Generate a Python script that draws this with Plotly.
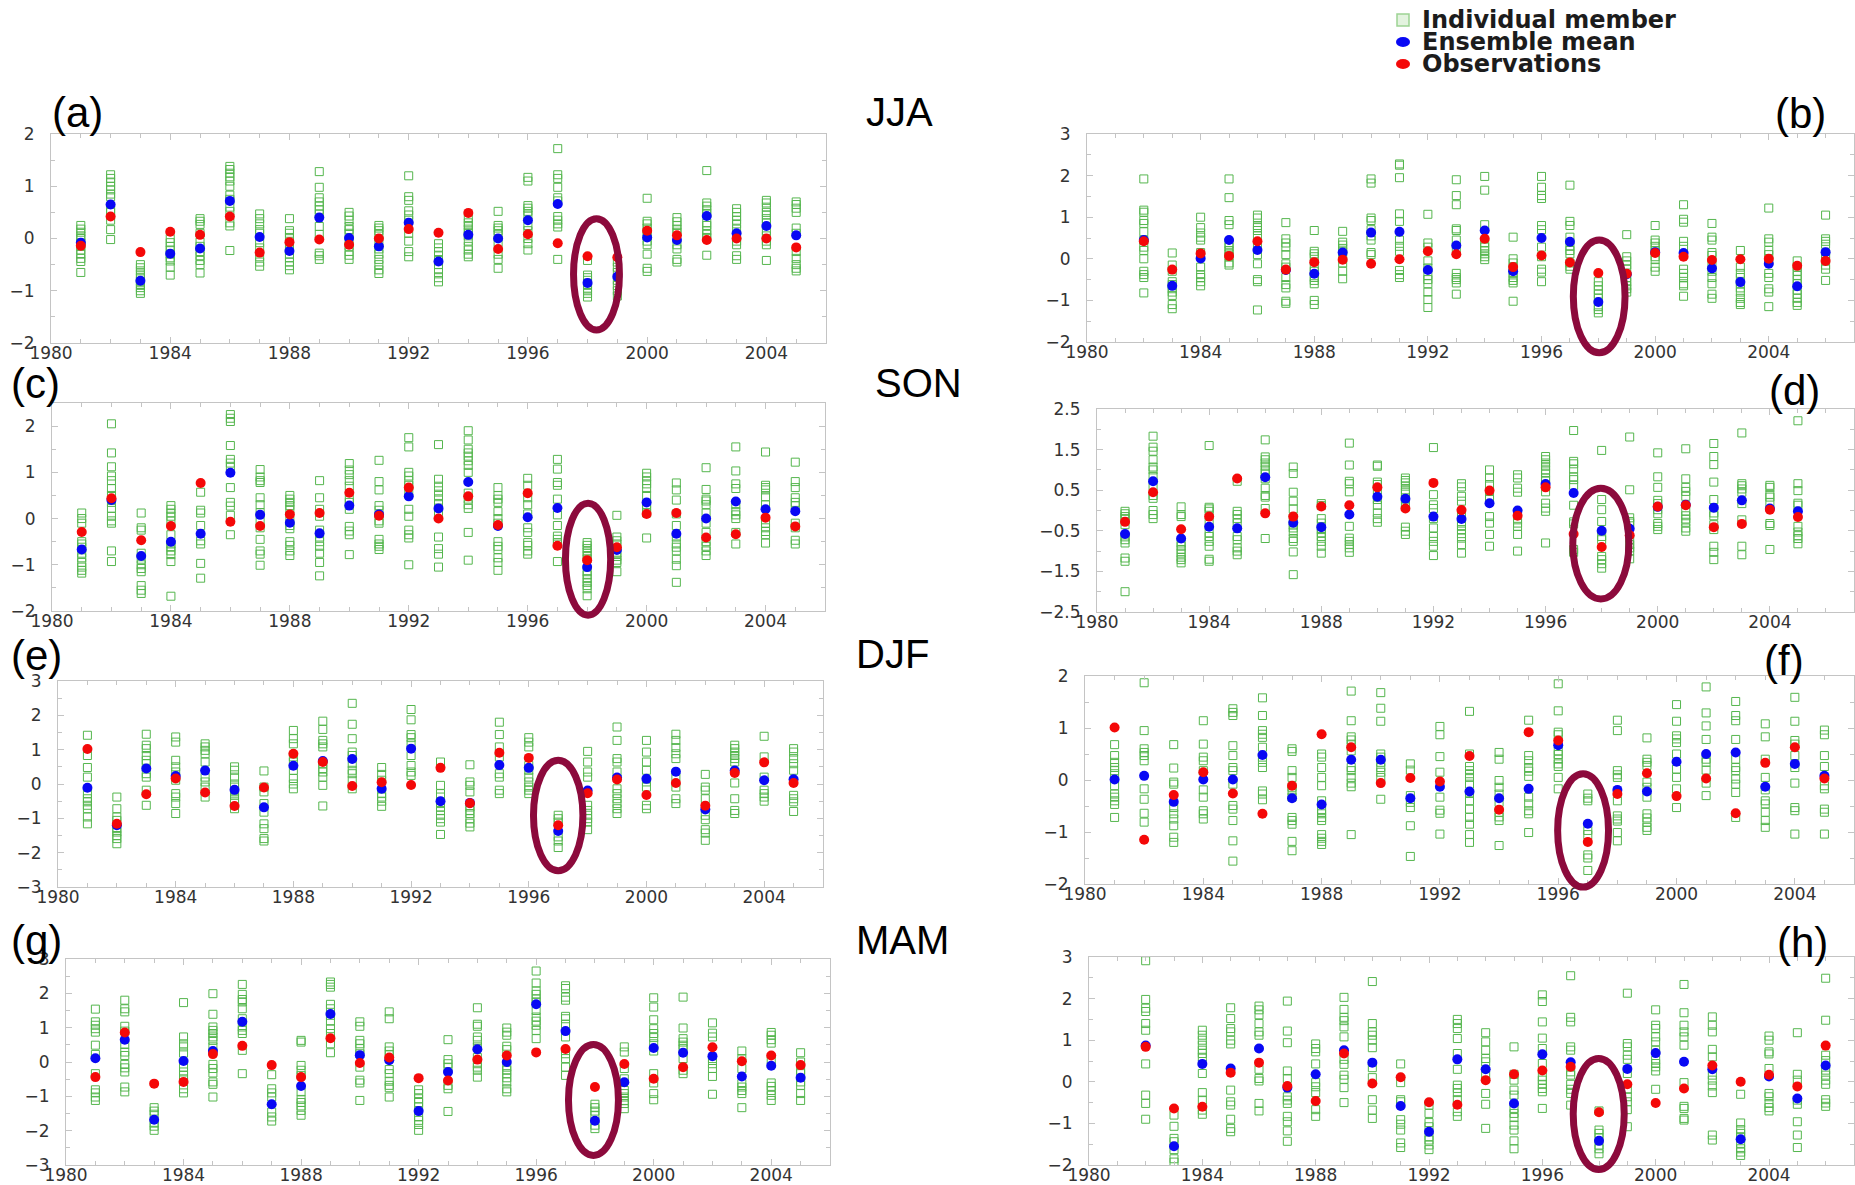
import plotly.graph_objects as go

# ---------------- data ----------------
YEARS_81 = list(range(1981, 2006))
YEARS_82 = list(range(1982, 2007))

# (a) JJA, left
A_OBS = [-0.14,0.42,-0.26,0.13,0.07,0.42,-0.27,-0.07,-0.02,-0.12,0.0,0.18,0.11,0.49,-0.2,0.08,-0.09,-0.34,-0.36,0.15,0.06,-0.03,0.0,0.0,-0.17]
A_MEAN = [-0.08,0.65,-0.81,-0.29,-0.19,0.72,0.03,-0.24,0.4,0.01,-0.15,0.3,-0.44,0.07,0.0,0.35,0.66,-0.85,-0.73,0.02,-0.03,0.43,0.1,0.24,0.06]
A_MEMBERS = [
    [0.25,0.18,0.12,0.05,0.0,-0.08,-0.15,-0.22,-0.3,-0.38,-0.44,-0.65],
    [1.22,1.15,1.08,1.0,0.93,0.85,0.8,0.55,0.5,0.35,0.17,-0.02],
    [-0.5,-0.56,-0.62,-0.68,-0.75,-0.82,-0.88,-0.94,-1.0,-1.05],
    [0.0,-0.08,-0.15,-0.22,-0.3,-0.37,-0.43,-0.55,-0.7],
    [0.38,0.33,0.27,0.1,-0.07,-0.15,-0.25,-0.33,-0.42,-0.5,-0.66],
    [1.38,1.32,1.25,1.18,1.1,1.0,0.83,0.75,0.6,0.52,0.3,0.24,-0.23],
    [0.47,0.38,0.28,0.17,0.1,-0.08,-0.18,-0.35,-0.45,-0.53],
    [0.38,0.15,0.1,0.02,-0.15,-0.22,-0.3,-0.37,-0.45,-0.52,-0.6],
    [1.28,0.98,0.78,0.7,0.62,0.55,0.47,0.23,0.08,-0.28,-0.33,-0.4],
    [0.5,0.43,0.35,0.23,0.17,0.1,-0.05,-0.15,-0.25,-0.32,-0.4],
    [0.25,0.2,0.15,0.08,-0.05,-0.2,-0.3,-0.4,-0.5,-0.6,-0.67],
    [1.2,0.8,0.73,0.53,0.45,0.35,0.1,-0.05,-0.25,-0.35],
    [-0.1,-0.18,-0.25,-0.32,-0.42,-0.5,-0.58,-0.65,-0.75,-0.83],
    [0.38,0.3,0.25,0.18,0.12,0.05,-0.05,-0.15,-0.22,-0.3,-0.35],
    [0.52,0.25,0.2,0.15,0.08,-0.08,-0.3,-0.4,-0.57],
    [1.17,1.1,0.63,0.58,0.52,0.45,0.25,0.15,0.0,-0.1,-0.22],
    [1.72,1.22,1.15,0.98,0.78,0.72,0.42,0.35,0.28,0.22,-0.4],
    [-0.42,-0.7,-0.75,-0.8,-0.88,-0.95,-1.0,-1.05,-1.12],
    [-0.45,-0.55,-0.65,-0.8,-0.9,-1.0,-1.1],
    [0.77,0.33,0.28,0.2,0.12,0.05,-0.05,-0.12,-0.3,-0.57,-0.63],
    [0.4,0.32,0.25,0.18,0.12,-0.12,-0.2,-0.4,-0.45],
    [1.3,0.68,0.62,0.55,0.48,0.3,0.25,0.15,0.08,0.02,-0.32],
    [0.57,0.5,0.42,0.35,0.28,0.18,0.05,-0.05,-0.12,-0.33,-0.4],
    [0.73,0.68,0.6,0.5,0.45,0.38,0.3,0.15,0.05,-0.05,-0.12,-0.42],
    [0.7,0.65,0.58,0.5,0.2,0.1,-0.25,-0.38,-0.5,-0.57,-0.62],
]

# (b) JJA, right
B_OBS = [0.42,-0.26,0.13,0.07,0.42,-0.26,-0.08,-0.02,-0.12,-0.01,0.18,0.11,0.48,-0.2,0.08,-0.09,-0.34,-0.36,0.14,0.05,-0.03,-0.01,0.0,-0.17,-0.05]
B_MEAN = [0.45,-0.65,0.01,0.45,0.21,-0.27,-0.36,0.15,0.63,0.65,-0.27,0.32,0.68,-0.3,0.5,0.41,-1.04,-0.37,0.16,0.14,-0.23,-0.56,-0.12,-0.66,0.16]
B_MEMBERS = [
    [1.92,1.17,1.12,0.92,0.85,0.65,0.45,0.28,0.2,0.0,-0.3,-0.38,-0.45,-0.82],
    [0.14,-0.15,-0.3,-0.55,-0.62,-0.72,-0.8,-0.88,-1.1,-1.2],
    [1.0,0.75,0.62,0.52,0.45,0.15,-0.2,-0.38,-0.45,-0.55,-0.65],
    [1.92,1.47,0.92,0.82,0.35,0.28,0.2,0.12,0.05,-0.1,-0.15],
    [1.05,0.98,0.8,0.75,0.68,0.55,0.3,0.1,-0.12,-0.5,-0.55,-1.23],
    [0.87,0.48,0.38,0.28,0.1,-0.12,-0.2,-0.45,-0.62,-0.7,-1.02,-1.07],
    [0.68,0.18,0.12,0.05,-0.2,-0.3,-0.45,-0.52,-0.6,-1.0,-1.1],
    [0.66,0.4,0.33,0.25,0.17,0.08,-0.1,-0.3,-0.48],
    [1.92,1.82,0.98,0.92,0.7,0.55,0.45,0.15,0.1],
    [2.28,2.25,1.95,1.08,0.9,0.45,0.3,0.18,-0.28,-0.38,-0.45],
    [1.07,0.38,0.28,-0.05,-0.22,-0.4,-0.5,-0.6,-0.8,-0.98,-1.17],
    [1.9,1.52,1.3,0.72,0.68,0.45,0.25,-0.35,-0.45,-0.5,-0.58,-0.85],
    [1.98,1.65,0.82,0.38,0.28,0.2,0.12,0.05,-0.02],
    [0.52,0.0,-0.1,-0.2,-0.35,-0.45,-0.52,-0.58,-1.02],
    [1.98,1.72,1.52,1.45,0.8,0.7,0.28,0.05,-0.25,-0.32,-0.55],
    [1.77,0.9,0.8,0.52,0.3,0.2,0.12,-0.1,-0.18,-0.25],
    [-0.55,-0.65,-0.75,-0.85,-0.95,-1.15,-1.22,-1.3],
    [0.58,0.05,-0.05,-0.15,-0.25,-0.45,-0.55,-0.65,-0.72,-0.8],
    [0.8,0.45,0.38,0.3,0.2,0.05,-0.02,-0.2,-0.3],
    [1.3,0.95,0.88,0.42,0.3,0.1,-0.25,-0.35,-0.45,-0.6,-0.65,-0.9],
    [0.85,0.52,0.45,0.15,0.08,-0.15,-0.3,-0.45,-0.6,-0.85,-0.95],
    [0.2,-0.2,-0.35,-0.45,-0.6,-0.7,-0.8,-0.95,-1.05,-1.1],
    [1.22,0.48,0.4,0.2,0.1,-0.05,-0.35,-0.45,-0.72,-0.8,-1.15],
    [-0.05,-0.2,-0.3,-0.4,-0.5,-0.6,-0.75,-0.85,-0.95,-1.05,-1.12],
    [1.05,0.48,0.42,0.35,0.12,0.05,-0.15,-0.25,-0.52],
]

# (c) SON, left
C_OBS = [-0.29,0.44,-0.47,-0.16,0.77,-0.07,-0.16,0.09,0.12,0.56,0.06,0.67,0.0,0.48,-0.14,0.55,-0.59,-0.9,-0.62,0.1,0.12,-0.41,-0.34,0.02,-0.17]
C_MEAN = [-0.67,0.4,-0.81,-0.5,-0.33,0.99,0.08,-0.09,-0.32,0.28,0.09,0.48,0.22,0.79,-0.16,0.03,0.23,-1.05,-0.68,0.35,-0.33,0.0,0.37,0.2,0.16]
C_MEMBERS = [
    [0.12,0.0,-0.1,-0.5,-0.55,-0.62,-0.75,-0.85,-0.95,-1.05,-1.12,-1.18],
    [2.05,1.42,1.12,0.92,0.82,0.65,0.5,0.35,0.22,0.05,-0.05,-0.1,-0.7,-0.93],
    [0.12,-0.2,-0.25,-0.75,-0.88,-1.0,-1.08,-1.15,-1.45,-1.55,-1.62],
    [0.28,0.2,0.12,0.05,-0.05,-0.35,-0.55,-0.62,-0.7,-0.78,-0.93,-1.68],
    [0.57,0.18,0.12,-0.15,-0.48,-0.55,-0.97,-1.29],
    [2.25,2.17,2.1,1.58,1.28,1.2,1.13,0.67,0.35,0.27,0.07,-0.35],
    [1.06,0.9,0.82,0.78,0.45,0.3,0.13,-0.05,-0.2,-0.45,-0.7,-0.77,-1.01],
    [0.5,0.42,0.35,0.28,0.2,-0.05,-0.15,-0.22,-0.5,-0.58,-0.7,-0.8],
    [0.82,0.45,0.2,0.05,-0.25,-0.4,-0.5,-0.6,-0.75,-0.95,-1.24],
    [1.19,1.05,0.95,0.82,0.7,0.42,0.35,0.2,-0.17,-0.27,-0.35,-0.78],
    [1.26,0.8,0.62,0.28,0.18,-0.05,-0.1,-0.45,-0.55,-0.6,-0.67],
    [1.75,1.55,1.0,0.92,0.82,0.72,0.58,0.2,0.05,-0.25,-0.35,-0.42,-1.0],
    [1.6,0.85,0.7,0.6,0.5,0.4,0.3,0.15,-0.4,-0.65,-0.77,-1.05],
    [1.9,1.7,1.5,1.42,1.35,1.25,1.15,1.0,0.55,0.42,0.3,0.22,-0.3,-0.9],
    [0.67,0.5,0.42,0.35,0.15,0.0,-0.1,-0.5,-0.6,-0.67,-0.85,-0.95,-1.12],
    [0.87,0.72,0.45,0.3,0.1,-0.2,-0.3,-0.52,-0.58,-0.7,-0.77],
    [1.28,1.07,0.78,0.72,0.42,0.08,-0.15,-0.38,-0.45,-0.52,-0.93],
    [-0.52,-0.58,-0.65,-0.72,-0.8,-0.87,-1.15,-1.22,-1.3,-1.38,-1.45,-1.52,-1.67],
    [0.07,-0.4,-0.48,-0.55,-0.75,-0.82,-0.9,-0.95,-1.15],
    [0.98,0.9,0.82,0.75,0.65,0.5,0.3,0.2,0.12,-0.42],
    [0.77,0.62,0.4,0.1,-0.15,-0.4,-0.55,-0.62,-0.7,-0.88,-1.02,-1.38],
    [1.1,0.63,0.42,0.38,0.3,0.12,-0.1,-0.3,-0.5,-0.6,-0.7,-0.8],
    [1.55,1.03,0.75,0.65,0.3,0.15,0.08,0.0,-0.3,-0.55],
    [1.44,0.72,0.67,0.62,0.47,0.3,-0.1,-0.2,-0.28,-0.35,-0.53],
    [1.22,0.8,0.67,0.45,0.35,0.28,-0.1,-0.2,-0.47,-0.55],
]

# (d) SON, right
D_OBS = [-0.28,0.45,-0.46,-0.15,0.79,-0.07,-0.15,0.1,0.13,0.57,0.05,0.68,0.01,0.49,-0.13,0.57,-0.58,-0.9,-0.61,0.1,0.13,-0.41,-0.33,0.02,-0.16]
D_MEAN = [-0.58,0.72,-0.69,-0.4,-0.44,0.82,-0.3,-0.41,-0.1,0.34,0.29,-0.15,-0.21,0.18,0.0,0.65,0.43,-0.5,-0.45,0.09,0.14,0.07,0.25,0.05,-0.02]
D_MEMBERS = [
    [-0.02,-0.08,-0.15,-0.2,-0.35,-0.65,-0.72,-0.8,-1.17,-1.25,-2.0],
    [1.83,1.56,1.46,1.25,1.07,1.0,0.84,0.6,0.37,0.3,0.0,-0.1,-0.2],
    [0.09,-0.1,-0.15,-0.8,-0.88,-0.96,-1.05,-1.15,-1.21,-1.29],
    [1.6,0.08,0.04,-0.02,-0.27,-0.55,-0.64,-0.76,-0.88,-1.2,-1.25],
    [0.72,-0.02,-0.1,-0.2,-0.31,-0.64,-0.72,-0.92,-1.0,-1.09],
    [1.74,1.32,1.25,1.17,1.09,1.0,0.92,0.78,0.55,0.37,0.33,0.05,-0.69],
    [1.07,0.91,0.45,0.23,0.04,-0.18,-0.36,-0.43,-0.53,-0.69,-0.76,-1.02,-1.58],
    [0.17,0.12,-0.2,-0.31,-0.47,-0.55,-0.64,-0.76,-0.88,-1.05],
    [1.66,1.12,0.72,0.66,0.46,-0.39,-0.68,-0.76,-0.84,-0.92,-1.03],
    [1.12,1.09,0.7,0.64,0.5,0.27,0.13,-0.06,-0.2,-0.29],
    [0.8,0.74,0.68,0.6,0.51,0.45,0.28,0.18,-0.41,-0.51,-0.59],
    [1.55,0.39,0.14,0.05,-0.2,-0.43,-0.64,-0.76,-0.88,-1.11],
    [0.66,0.58,0.35,0.23,-0.06,-0.31,-0.39,-0.47,-0.57,-0.68,-0.84,-1.05],
    [1.0,0.8,0.64,0.35,0.27,-0.15,-0.31,-0.59,-0.88],
    [0.88,0.8,0.55,0.45,-0.06,-0.23,-0.31,-0.39,-0.59,-1.0],
    [1.33,1.25,1.17,1.09,1.0,0.92,0.8,0.74,0.46,0.18,0.06,-0.02,-0.8],
    [1.97,1.21,1.15,1.02,0.83,0.76,0.62,0.13,-0.28,-0.33,-0.96,-1.03],
    [1.48,0.27,0.02,-0.27,-0.64,-0.72,-1.13,-1.21,-1.31,-1.42],
    [1.81,0.51,-0.18,-0.27,-0.31,-0.72,-0.84,-0.92,-1.0,-1.19],
    [1.42,0.83,0.57,0.25,0.17,0.02,-0.08,-0.32,-0.39,-0.47],
    [1.52,0.78,0.57,0.47,0.35,-0.02,-0.13,-0.21,-0.29,-0.43,-0.51],
    [1.65,1.33,1.13,0.7,0.27,-0.06,-0.13,-0.35,-0.47,-0.88,-1.03,-1.21],
    [1.91,0.66,0.61,0.53,0.45,0.17,-0.23,-0.88,-1.09],
    [0.62,0.57,0.39,0.33,0.2,-0.32,-0.37,-0.96],
    [2.21,0.66,0.49,0.18,0.13,-0.39,-0.53,-0.62,-0.69,-0.82],
]

# (e) DJF, left
E_OBS = [1.02,-1.16,-0.3,0.16,-0.25,-0.64,-0.1,0.88,0.64,-0.06,0.05,-0.03,0.47,-0.56,0.91,0.76,-1.2,-0.27,0.13,-0.32,0.03,-0.63,0.32,0.63,0.03]
E_MEAN = [-0.11,-1.2,0.45,0.23,0.39,-0.17,-0.68,0.53,0.67,0.73,-0.14,1.03,-0.5,-0.55,0.55,0.47,-1.37,-0.19,0.19,0.15,0.36,-0.74,0.39,0.11,0.14]
E_MEMBERS = [
    [1.42,0.83,0.48,0.2,-0.28,-0.43,-0.52,-0.62,-0.72,-0.96,-1.16],
    [-0.38,-0.72,-0.96,-1.06,-1.3,-1.4,-1.5,-1.59,-1.74],
    [1.45,1.13,1.03,0.83,0.69,0.59,0.3,0.2,-0.18,-0.62],
    [1.37,1.22,0.69,0.5,0.35,0.11,-0.28,-0.38,-0.57,-0.86],
    [1.17,1.08,0.98,0.88,0.64,0.2,0.06,-0.09,-0.38],
    [0.5,0.4,0.2,0.0,-0.09,-0.23,-0.33,-0.43,-0.52,-0.72],
    [0.38,-0.09,-0.23,-0.57,-0.82,-1.16,-1.3,-1.59,-1.66],
    [1.56,1.32,1.17,0.79,0.64,0.4,0.16,0.0,-0.14],
    [1.83,1.59,1.27,1.17,1.08,0.59,0.45,0.35,0.2,-0.04,-0.64],
    [2.35,1.74,1.32,0.93,0.83,0.59,0.4,0.3,0.11,-0.14],
    [0.48,0.28,0.11,-0.28,-0.38,-0.5,-0.65],
    [2.17,1.87,1.44,1.35,1.17,0.83,0.54,0.35,0.25],
    [0.64,-0.04,-0.28,-0.38,-0.57,-0.67,-0.77,-0.91,-1.01,-1.11,-1.47],
    [0.56,0.06,-0.04,-0.23,-0.67,-0.77,-0.86,-1.01,-1.14,-1.25],
    [1.8,1.44,1.08,0.79,0.3,0.2,-0.18,-0.28],
    [1.35,1.22,1.08,0.54,0.4,0.2,0.06,-0.09,-0.18,-0.28],
    [-0.91,-1.01,-1.11,-1.54,-1.66,-1.85],
    [0.95,0.64,0.35,0.2,-0.62,-0.77,-0.91,-1.01,-1.11,-1.33],
    [1.66,1.27,0.74,0.64,0.35,-0.14,-0.28,-0.43,-0.57,-0.72,-0.86],
    [1.27,0.93,0.64,0.4,0.06,-0.09,-0.62,-0.72],
    [1.45,1.27,1.06,0.88,0.74,0.2,-0.09,-0.43,-0.57],
    [0.28,-0.09,-0.18,-0.43,-0.91,-1.04,-1.33,-1.43,-1.64],
    [1.13,1.03,0.93,0.83,0.74,0.64,0.03,-0.43,-0.77,-0.86],
    [1.39,0.79,0.2,-0.18,-0.28,-0.38,-0.5],
    [1.03,0.93,0.74,0.59,0.4,-0.33,-0.43,-0.52,-0.8],
]

# (f) DJF, right
F_OBS = [1.01,-1.15,-0.29,0.15,-0.26,-0.65,-0.11,0.88,0.63,-0.06,0.04,-0.03,0.46,-0.57,0.92,0.76,-1.19,-0.27,0.13,-0.31,0.03,-0.64,0.33,0.63,0.03]
F_MEAN = [0.01,0.08,-0.42,0.01,0.01,0.48,-0.35,-0.47,0.39,0.39,-0.35,-0.13,-0.22,-0.35,-0.17,0.67,-0.84,-0.19,-0.22,0.35,0.5,0.53,-0.13,0.31,0.08]
F_MEMBERS = [
    [0.68,0.47,0.34,0.24,0.18,0.12,-0.11,-0.27,-0.33,-0.4,-0.47,-0.72],
    [1.87,0.95,0.6,0.53,0.47,0.37,-0.17,-0.37,-0.64,-0.81],
    [0.68,0.23,-0.04,-0.08,-0.53,-0.65,-0.75,-0.88,-1.1,-1.2],
    [1.14,0.69,0.44,0.37,0.18,-0.19,-0.33,-0.59,-0.65,-0.75],
    [1.37,1.3,1.24,0.66,0.47,0.24,0.18,-0.08,-0.49,-0.56,-0.78,-1.17,-1.56],
    [1.58,1.24,0.95,0.88,0.82,0.63,0.44,0.34,0.24,-0.21,-0.27,-0.38],
    [0.6,0.55,0.18,0.05,-0.14,-0.21,-0.33,-0.72,-0.78,-0.85,-1.18,-1.36],
    [0.5,0.44,0.24,0.05,-0.11,-0.4,-0.59,-0.65,-0.72,-0.78,-1.05,-1.12,-1.18,-1.24],
    [1.71,1.14,0.83,0.77,0.69,0.56,0.24,0.18,0.05,-0.06,-0.13,-1.05],
    [1.68,1.38,1.13,0.5,0.44,0.34,0.24,0.15,0.05,-0.37],
    [0.31,0.19,-0.3,-0.43,-0.53,-0.88,-1.47],
    [1.03,0.87,0.45,0.15,-0.33,-0.58,-0.64,-1.04],
    [1.32,0.5,0.26,0.18,0.12,0.05,-0.08,-0.26,-0.4,-0.56,-0.72,-0.85,-1.05,-1.2],
    [0.53,0.4,-0.01,-0.14,-0.27,-0.43,-0.62,-0.71,-0.78,-1.26],
    [1.15,0.47,0.37,0.24,0.17,0.07,-0.33,-0.46,-0.59,-0.65,-1.01],
    [1.85,1.33,0.92,0.87,0.56,0.49,0.4,0.31,0.26,0.05,-0.17],
    [-0.27,-0.35,-0.4,-0.97,-1.05,-1.44,-1.5,-1.74],
    [1.15,0.95,0.18,0.1,0.05,-0.4,-0.69,-0.75,-0.79,-1.01,-1.17],
    [0.81,0.4,0.34,0.28,-0.04,-0.14,-0.33,-0.65,-0.73,-0.81,-0.91,-0.97],
    [1.45,1.13,0.85,0.79,0.72,0.5,0.21,0.05,-0.17,-0.53],
    [1.79,1.29,1.04,0.78,0.4,0.34,0.19,-0.06,-0.3],
    [1.51,1.24,1.14,0.78,0.4,0.24,0.18,0.02,-0.08,-0.24,-0.72],
    [1.08,0.83,0.4,0.05,-0.19,-0.4,-0.46,-0.62,-0.78,-0.91],
    [1.59,1.13,0.76,0.69,0.47,0.24,-0.06,-0.53,-0.59,-1.04],
    [0.96,0.87,0.47,0.26,-0.11,-0.17,-0.56,-0.62,-1.04],
]

# (g) MAM, left
G_OBS = [-0.44,0.86,-0.63,-0.58,0.23,0.47,-0.09,-0.44,0.69,-0.03,0.13,-0.47,-0.54,0.07,0.19,0.28,0.38,-0.73,-0.06,-0.49,-0.15,0.43,0.02,0.19,-0.09]
G_MEAN = [0.11,0.65,-1.68,0.03,0.32,1.17,-1.23,-0.7,1.4,0.2,0.05,-1.43,-0.29,0.37,0.0,1.68,0.9,-1.71,-0.59,0.41,0.27,0.17,-0.42,-0.11,-0.46]
G_MEMBERS = [
    [1.54,1.17,1.07,0.97,0.87,0.49,0.22,-0.34,-0.81,-0.9,-1.02,-1.12],
    [1.8,1.55,1.46,1.04,0.9,0.51,0.29,0.19,-0.07,-0.17,-0.29,-0.73,-0.87],
    [-1.33,-1.43,-1.52,-1.78,-1.87,-1.99],
    [1.73,0.73,0.53,0.44,0.26,-0.15,-0.29,-0.39,-0.49,-0.78,-0.9],
    [1.99,1.39,1.02,0.92,0.83,0.73,0.63,0.44,-0.07,-0.19,-0.32,-0.58,-0.65,-1.02],
    [2.26,1.97,1.82,1.75,1.55,1.26,1.02,0.92,0.83,0.34,-0.34],
    [-0.37,-0.78,-0.9,-1.02,-1.46,-1.6,-1.72],
    [0.63,0.58,-0.1,-0.24,-0.39,-0.87,-1.09,-1.18,-1.28,-1.41,-1.55],
    [2.33,2.26,2.18,1.68,1.55,1.36,1.19,0.97,0.83,0.53,0.27],
    [1.17,1.04,0.63,0.53,0.39,0.24,-0.15,-0.53,-0.61,-1.12],
    [1.46,1.26,0.44,0.32,0.22,-0.22,-0.34,-0.56,-0.68,-0.75,-1.02],
    [-0.81,-0.92,-1.07,-1.18,-1.31,-1.6,-1.7,-1.82,-1.99],
    [0.65,0.07,-0.05,-0.15,-0.68,-0.78,-1.44],
    [1.58,1.1,1.04,0.73,0.63,0.44,0.13,-0.05,-0.15,-0.24,-0.44],
    [0.99,0.87,0.78,0.46,0.36,-0.15,-0.24,-0.34,-0.46,-0.58,-0.78,-0.87],
    [2.65,2.3,2.07,1.97,1.84,1.75,1.5,1.31,1.19,1.07,0.92,0.68],
    [2.22,2.14,1.89,1.8,1.33,1.26,1.1,0.73,0.24,0.1,-0.15,-0.39],
    [-1.23,-1.33,-1.43,-1.55,-1.84,-1.94],
    [0.44,0.29,-0.19,-0.49,-0.83,-0.92,-1.02,-1.12,-1.21,-1.36],
    [1.87,1.6,1.23,0.97,0.83,0.71,0.53,0.32,-0.34,-0.61,-0.92,-1.1],
    [1.89,0.99,0.68,0.58,0.49,0.39,0.1,-0.24,-0.34],
    [1.14,0.84,0.73,0.1,-0.05,-0.19,-0.42,-0.94],
    [0.32,0.1,-0.19,-0.63,-0.73,-0.83,-0.92,-1.33],
    [0.86,0.78,0.65,0.55,0.05,-0.61,-0.71,-0.83,-0.97,-1.12],
    [0.27,0.0,-0.24,-0.34,-0.58,-0.68,-0.92,-1.12],
]

# (h) MAM, right
H_OBS = [0.84,-0.64,-0.6,0.22,0.46,-0.1,-0.46,0.68,-0.04,0.11,-0.49,-0.55,0.04,0.18,0.27,0.36,-0.73,-0.06,-0.51,-0.16,0.39,0.0,0.17,-0.11,0.87]
H_MEAN = [0.87,-1.55,0.43,0.32,0.8,-0.14,0.18,0.76,0.46,-0.58,-1.2,0.54,0.3,-0.52,0.66,0.47,-1.42,0.31,0.69,0.48,0.3,-1.38,0.13,-0.4,0.39]
H_MEMBERS = [
    [2.91,1.98,1.77,1.69,1.4,1.24,0.43,-0.32,-0.52,-0.9],
    [-0.8,-1.07,-1.36,-1.44,-1.63,-1.85,-1.93],
    [1.24,1.12,1.0,0.88,0.76,0.68,0.59,0.2,-0.26,-0.44,-0.68,-0.78],
    [1.78,1.52,1.28,1.2,1.0,0.91,-0.2,-0.48,-0.56,-0.9,-1.12,-1.2],
    [1.82,1.73,1.61,1.4,1.2,1.12,0.3,0.08,0.02,-0.52,-0.7],
    [1.94,1.22,0.94,0.26,0.08,-0.36,-0.44,-0.52,-0.83,-0.96,-1.18,-1.43],
    [0.91,0.8,0.72,0.43,-0.02,-0.12,-0.26,-0.67,-0.83],
    [2.03,1.74,1.55,1.47,1.32,1.08,0.54,0.42,0.16,0.06,-0.14,-0.5],
    [2.41,1.4,1.2,1.12,1.0,0.82,0.34,0.1,-0.43,-0.68,-0.88],
    [0.43,-0.02,-0.43,-0.48,-0.91,-1.02,-1.16,-1.47,-1.58],
    [-0.56,-0.76,-0.98,-1.08,-1.32,-1.4,-1.52,-1.63],
    [1.5,1.4,1.28,1.04,0.68,0.3,-0.08,-0.16,-0.26,-0.43,-0.72,-0.83],
    [1.18,0.96,0.76,0.56,0.48,0.16,-0.28,-0.54,-1.12],
    [0.84,0.18,0.04,-0.2,-0.32,-0.64,-0.76,-0.86,-1.04,-1.16,-1.42,-1.61],
    [2.09,1.93,1.44,1.05,0.8,0.44,0.12,0.04,-0.06,-0.16,-0.24,-0.64],
    [2.55,1.55,1.44,0.84,0.76,0.24,0.16,-0.06,-0.18,-0.28,-0.56],
    [-0.7,-1.16,-1.24,-1.34,-1.52,-1.61,-1.73],
    [2.13,0.92,0.84,0.64,0.54,0.2,-0.18,-0.36,-0.48,-0.67,-1.08],
    [1.73,1.36,1.28,1.08,0.96,0.76,0.52,0.44,0.36,0.26,-0.18],
    [2.34,1.66,1.36,1.2,1.08,0.88,-0.02,-0.59,-0.64,-0.88,-0.92],
    [1.56,1.36,1.2,0.78,0.6,0.16,0.04,-0.1,-0.26,-1.28,-1.4],
    [-0.3,-0.99,-1.15,-1.24,-1.32,-1.48,-1.61,-1.69,-1.77],
    [1.1,1.0,0.72,0.67,0.32,-0.28,-0.36,-0.52,-0.62,-0.7],
    [1.18,0.18,0.04,-0.44,-0.54,-0.96,-1.28,-1.58],
    [2.49,1.48,0.64,0.51,0.28,0.16,0.04,-0.06,-0.43,-0.51,-0.59],
]

PANEL_YEARS = [YEARS_81, YEARS_82, YEARS_81, YEARS_81, YEARS_81, YEARS_81, YEARS_81, YEARS_82]
PANEL_OBS = [A_OBS, B_OBS, C_OBS, D_OBS, E_OBS, F_OBS, G_OBS, H_OBS]
PANEL_MEAN = [A_MEAN, B_MEAN, C_MEAN, D_MEAN, E_MEAN, F_MEAN, G_MEAN, H_MEAN]
PANEL_MEMBERS = [A_MEMBERS, B_MEMBERS, C_MEMBERS, D_MEMBERS, E_MEMBERS, F_MEMBERS, G_MEMBERS, H_MEMBERS]

X_RANGES = [(1980, 2006), (1980, 2007), (1980, 2006), (1980, 2007),
            (1980, 2006), (1980, 2006), (1980, 2006), (1980, 2007)]
Y_RANGES = [(-2, 2), (-2, 3), (-2, 2.5), (-2.5, 2.5), (-3, 3), (-2, 2), (-3, 3), (-2, 3)]
Y_TICKS = [[-2, -1, 0, 1, 2], [-2, -1, 0, 1, 2, 3], [-2, -1, 0, 1, 2],
           [-2.5, -1.5, -0.5, 0.5, 1.5, 2.5], [-3, -2, -1, 0, 1, 2, 3],
           [-2, -1, 0, 1, 2], [-3, -2, -1, 0, 1, 2, 3], [-2, -1, 0, 1, 2, 3]]
X_TICKS = [1980, 1984, 1988, 1992, 1996, 2000, 2004]

# highlighted event: (centre year, half-width in years, top value, bottom value)
HIGHLIGHTS = [(1998.3, 0.77, 0.38, -1.75), (1998.03, 0.91, 0.45, -2.26),
              (1998.03, 0.76, 0.33, -2.09), (1997.97, 1.0, 0.55, -2.18),
              (1997.0, 0.84, 0.69, -2.53), (1996.84, 0.86, 0.12, -2.06),
              (1997.95, 0.85, 0.51, -2.72), (1997.99, 0.9, 0.56, -2.11)]

PANEL_LABELS = ["(a)", "(b)", "(c)", "(d)", "(e)", "(f)", "(g)", "(h)"]
SEASONS = ["JJA", "SON", "DJF", "MAM"]
LEGEND_NAMES = ["Individual member", "Ensemble mean", "Observations"]

# ---------------- layout geometry (pixels) ----------------
W, H = 1855, 1185
BOXES = [  # x0, x1, ytop, ybottom
    (51, 826, 134, 343), (1087, 1854, 134, 342),
    (52, 825, 403, 611), (1097, 1854, 409, 612),
    (58, 823, 681, 887), (1085, 1854, 676, 884),
    (66, 830, 959, 1165), (1089, 1854, 957, 1165),
]

GREEN = "#55b64e"
BLUE = "#0808f4"
RED = "#f40808"
FRAME = "#c4c4c4"
ELLIPSE = "#8c0a3c"

fig = go.Figure()

for i in range(8):
    ax = "" if i == 0 else str(i + 1)
    years = PANEL_YEARS[i]
    mx, my = [], []
    for yr, vals in zip(years, PANEL_MEMBERS[i]):
        mx += [yr] * len(vals)
        my += vals
    fig.add_trace(go.Scatter(x=mx, y=my, mode="markers", xaxis="x" + ax, yaxis="y" + ax,
                             marker=dict(symbol="square-open", size=8, color=GREEN,
                                         line=dict(width=1, color=GREEN)),
                             showlegend=False, hoverinfo="skip"))
    fig.add_trace(go.Scatter(x=years, y=PANEL_MEAN[i], mode="markers", xaxis="x" + ax, yaxis="y" + ax,
                             marker=dict(symbol="circle", size=10, color=BLUE, line=dict(width=0)),
                             showlegend=False))
    fig.add_trace(go.Scatter(x=years, y=PANEL_OBS[i], mode="markers", xaxis="x" + ax, yaxis="y" + ax,
                             marker=dict(symbol="circle", size=10, color=RED, line=dict(width=0)),
                             showlegend=False))

axis_common = dict(showline=True, linecolor=FRAME, linewidth=1, mirror="ticks",
                   ticks="inside", ticklen=6, tickcolor=FRAME, showgrid=False, zeroline=False,
                   automargin=False,
                   tickfont=dict(family="DejaVu Sans", size=17, color="#333333"))

layout = dict(template="none", width=W, height=H, margin=dict(l=0, r=0, t=0, b=0, pad=0),
              autosize=False, paper_bgcolor="white", plot_bgcolor="white", showlegend=False)

shapes = []
annotations = []
for i in range(8):
    x0, x1, yt, yb = BOXES[i]
    dx = [x0 / W, x1 / W]
    dy = [1 - yb / H, 1 - yt / H]
    ax = "" if i == 0 else str(i + 1)
    layout["xaxis" + ax] = dict(axis_common, domain=dx, anchor="y" + ax, range=list(X_RANGES[i]),
                                tickmode="array", tickvals=X_TICKS, ticklabelstandoff=-5,
                                minor=dict(ticks="inside", ticklen=4, tickcolor=FRAME,
                                           tick0=1980, dtick=1))
    layout["yaxis" + ax] = dict(axis_common, domain=dy, anchor="x" + ax, range=list(Y_RANGES[i]),
                                tickmode="array", tickvals=Y_TICKS[i], ticklabelstandoff=12,
                                minor=dict(ticks="inside", ticklen=4, tickcolor=FRAME,
                                           tick0=0, dtick=0.5))
    # highlight ellipse, positioned through the panel's own scales
    cx, hw, ytop, ybot = HIGHLIGHTS[i]
    r0, r1 = X_RANGES[i]
    q0, q1 = Y_RANGES[i]
    px = lambda v: dx[0] + (v - r0) / (r1 - r0) * (dx[1] - dx[0])
    py = lambda v: dy[0] + (v - q0) / (q1 - q0) * (dy[1] - dy[0])
    shapes.append(dict(type="circle", xref="paper", yref="paper",
                       x0=px(cx - hw), x1=px(cx + hw), y0=py(ybot), y1=py(ytop),
                       line=dict(color=ELLIPSE, width=7), layer="above"))

# panel letters and season titles
LETTER_POS = [(50, 113, "left"), (1828, 114, "right"), (9, 383, "left"), (1822, 390, "right"),
              (9, 655, "left"), (1806, 660, "right"), (9, 940, "left"), (1830, 942, "right")]
for lab, (x, y, anc) in zip(PANEL_LABELS, LETTER_POS):
    annotations.append(dict(text=lab, x=x / W, y=1 - y / H, xref="paper", yref="paper",
                            xanchor=anc, yanchor="middle", showarrow=False,
                            font=dict(family="Liberation Sans", size=42, color="black")))
SEASON_POS = [(864, 112), (873, 383), (854, 654), (854, 940)]
for s, (x, y) in zip(SEASONS, SEASON_POS):
    annotations.append(dict(text=s, x=x / W, y=1 - y / H, xref="paper", yref="paper",
                            xanchor="left", yanchor="middle", showarrow=False,
                            font=dict(family="Liberation Sans", size=40, color="black")))

# legend (top right)
LEG_ROWS = [20, 42, 64]
shapes.append(dict(type="rect", xref="paper", yref="paper",
                   x0=1397 / W, x1=1409 / W, y0=1 - 26 / H, y1=1 - 14 / H,
                   line=dict(color="#9dd394", width=1.5), fillcolor="#e3f3df"))
shapes.append(dict(type="circle", xref="paper", yref="paper",
                   x0=1396 / W, x1=1410 / W, y0=1 - 47 / H, y1=1 - 37 / H,
                   line=dict(color=BLUE, width=0), fillcolor=BLUE))
shapes.append(dict(type="circle", xref="paper", yref="paper",
                   x0=1396 / W, x1=1410 / W, y0=1 - 69 / H, y1=1 - 59 / H,
                   line=dict(color=RED, width=0), fillcolor=RED))
for name, y in zip(LEGEND_NAMES, LEG_ROWS):
    annotations.append(dict(text="<b>%s</b>" % name, x=1420 / W, y=1 - y / H,
                            xref="paper", yref="paper", xanchor="left", yanchor="middle",
                            showarrow=False,
                            font=dict(family="DejaVu Sans", size=24, color="#1c1c1c")))

layout["shapes"] = shapes
layout["annotations"] = annotations
fig.update_layout(**layout)

fig.write_html("out.html")
